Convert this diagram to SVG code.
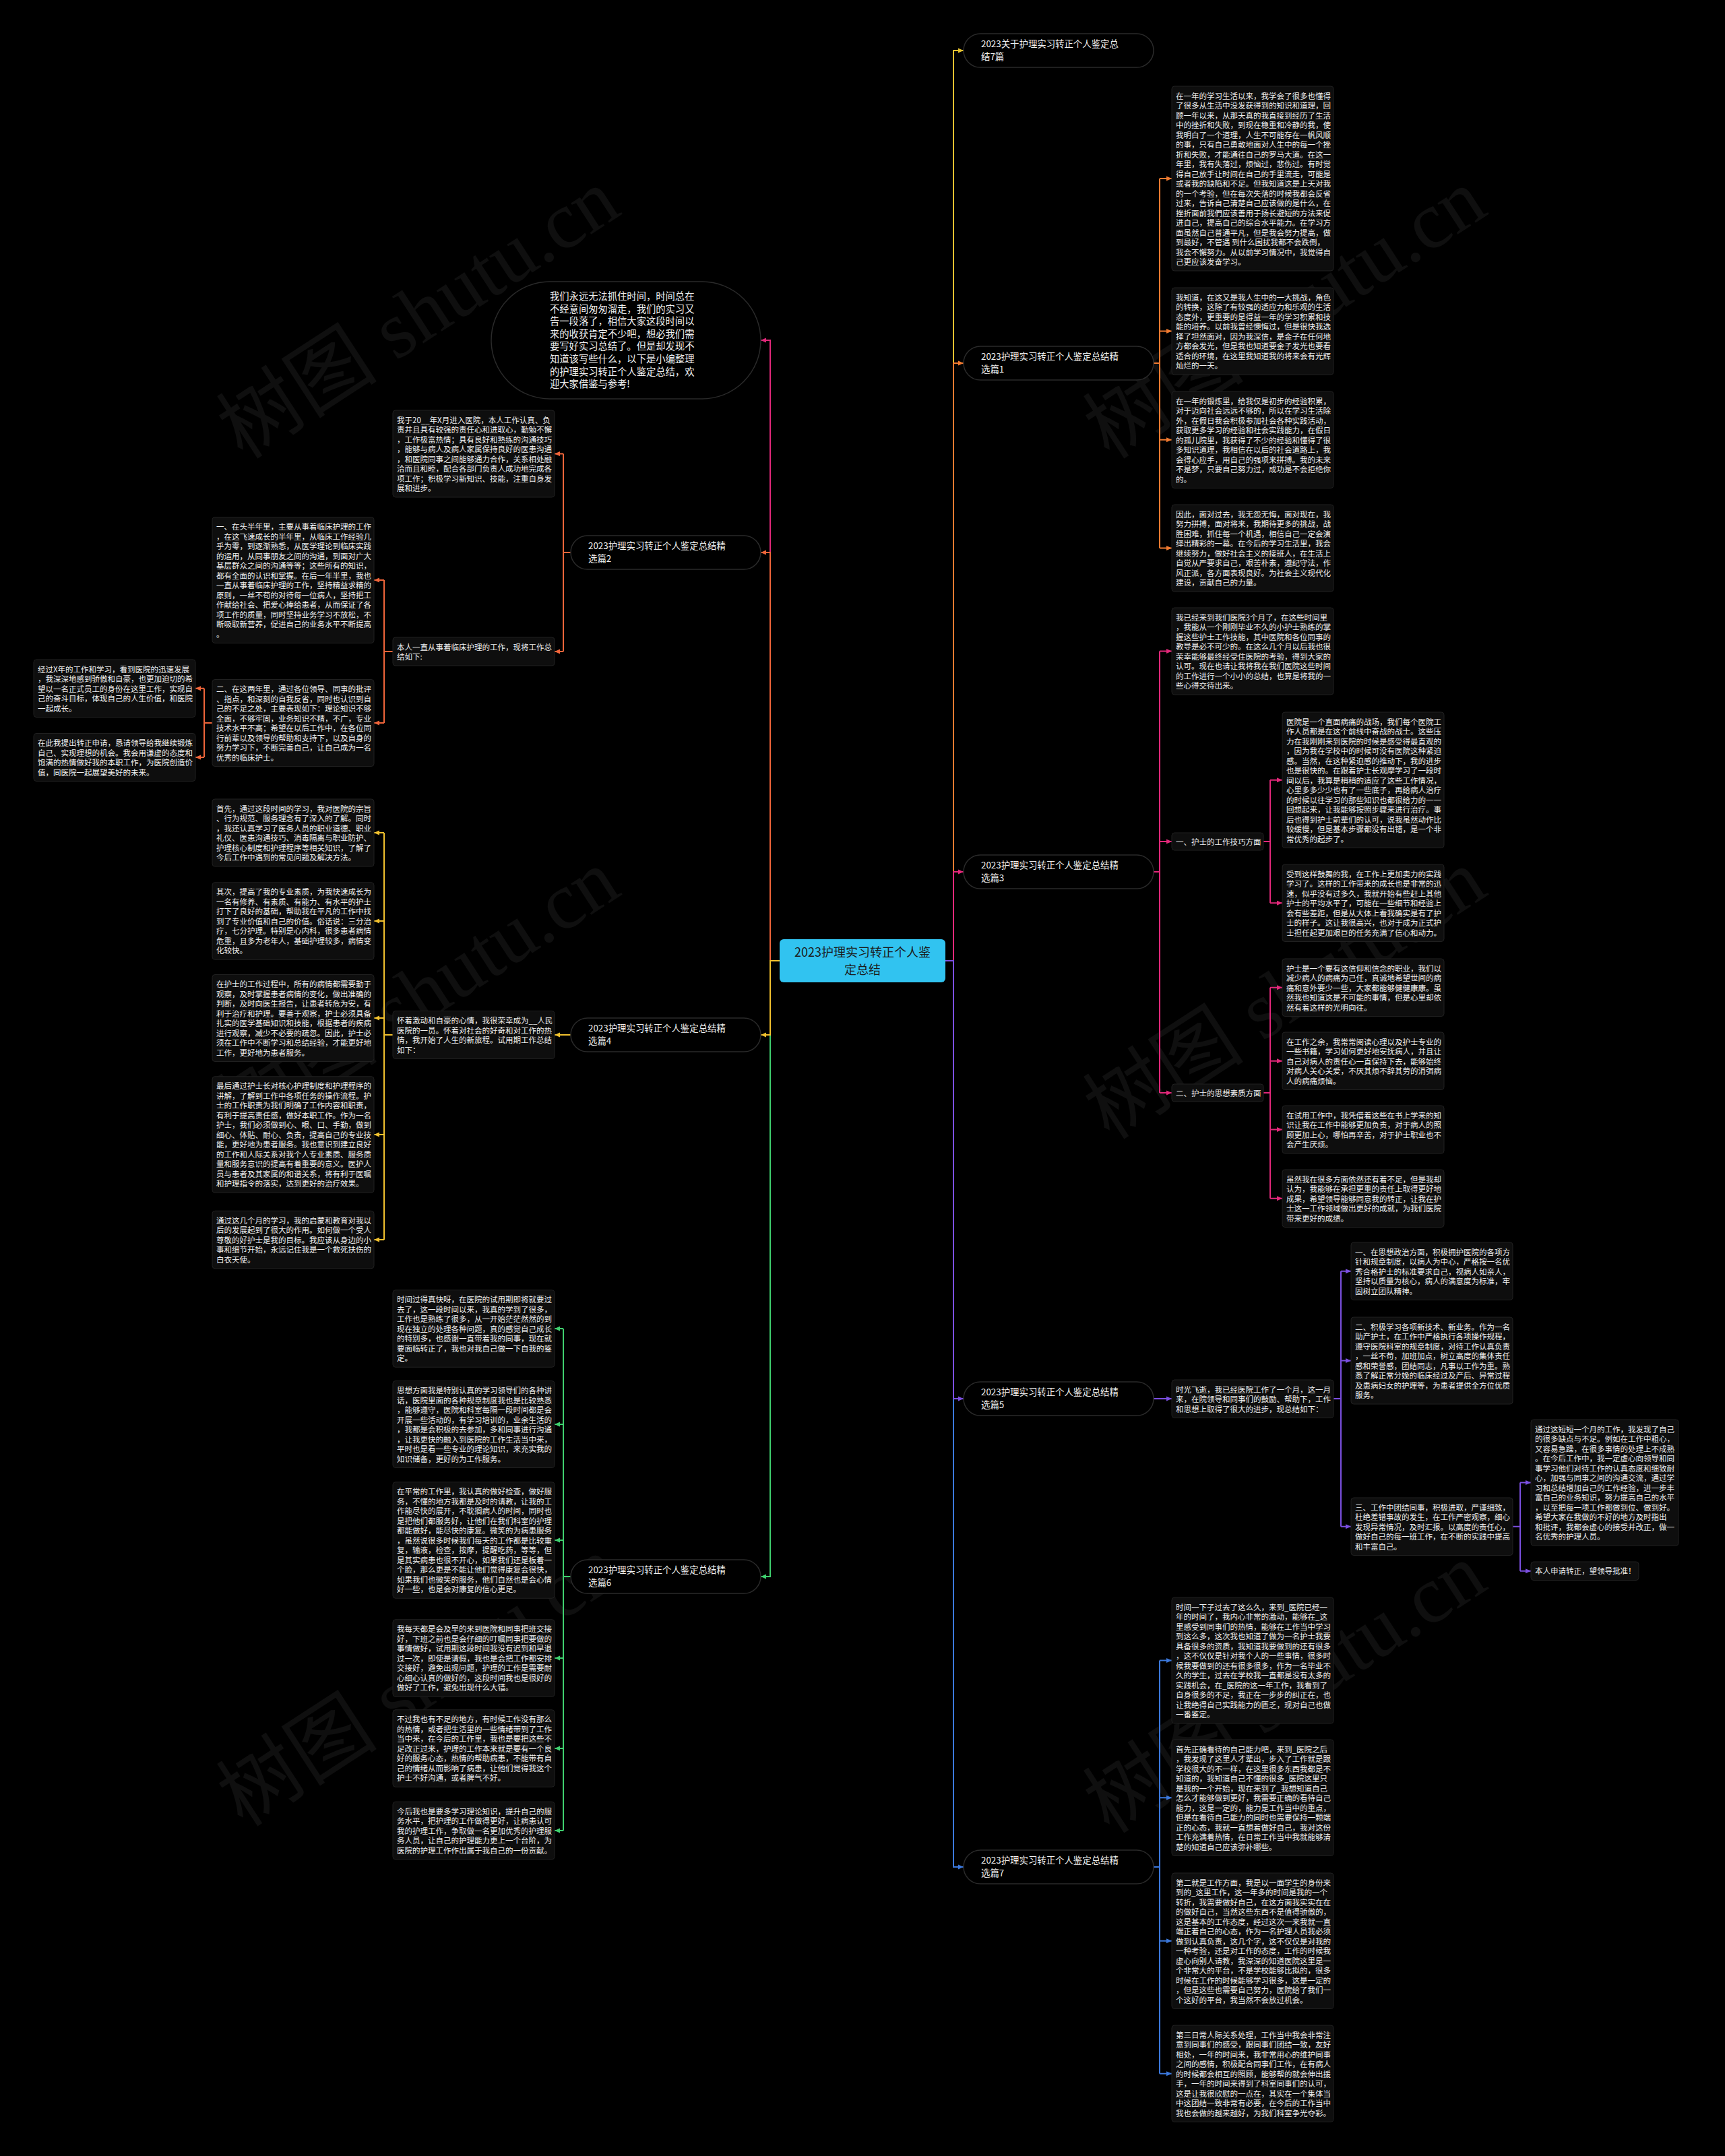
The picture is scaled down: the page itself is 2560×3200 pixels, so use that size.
<svg xmlns="http://www.w3.org/2000/svg" width="2560" height="3200" viewBox="0 0 2560 3200">
<style>
.bg{fill:#000}
.box{fill:#0e0e0e;stroke:#202020;stroke-width:1}
.t{font-family:"Noto Sans CJK SC","Liberation Sans",sans-serif;font-size:11.5px;fill:#f0f0f0}
.pill{fill:#000;stroke:#2a2a2a;stroke-width:1.5}
.pt{font-family:"Noto Sans CJK SC","Liberation Sans",sans-serif;font-size:13.4px;fill:#f0f0f0}
.it{font-family:"Noto Sans CJK SC","Liberation Sans",sans-serif;font-size:14.3px;fill:#f0f0f0}
.ct{font-family:"Noto Sans CJK SC","Liberation Sans",sans-serif;font-size:18px;fill:#1b1b1b;text-anchor:middle}
.wm{font-family:"Liberation Serif","Noto Sans CJK SC",serif;font-size:120px;fill:#ffffff;fill-opacity:0.06}
.c{fill:none;stroke-width:2}
.y{stroke:#e2bf2f}.o{stroke:#f07a30}.p{stroke:#e2287a}.v{stroke:#7b4fe0}.b{stroke:#3b78dc}
.r{stroke:#f0653a}.g{stroke:#f2c12e}.gr{stroke:#3fcf6e}.pk{stroke:#e2287a}
</style>
<defs>
<marker id="my" viewBox="0 0 8 8" refX="8" refY="4" markerWidth="8" markerHeight="8" markerUnits="userSpaceOnUse" orient="auto"><path d="M0,0.5L8,4L0,7.5z" fill="#e2bf2f"/></marker>
<marker id="mo" viewBox="0 0 8 8" refX="8" refY="4" markerWidth="8" markerHeight="8" markerUnits="userSpaceOnUse" orient="auto"><path d="M0,0.5L8,4L0,7.5z" fill="#f07a30"/></marker>
<marker id="mp" viewBox="0 0 8 8" refX="8" refY="4" markerWidth="8" markerHeight="8" markerUnits="userSpaceOnUse" orient="auto"><path d="M0,0.5L8,4L0,7.5z" fill="#e2287a"/></marker>
<marker id="mv" viewBox="0 0 8 8" refX="8" refY="4" markerWidth="8" markerHeight="8" markerUnits="userSpaceOnUse" orient="auto"><path d="M0,0.5L8,4L0,7.5z" fill="#7b4fe0"/></marker>
<marker id="mb" viewBox="0 0 8 8" refX="8" refY="4" markerWidth="8" markerHeight="8" markerUnits="userSpaceOnUse" orient="auto"><path d="M0,0.5L8,4L0,7.5z" fill="#3b78dc"/></marker>
<marker id="mr" viewBox="0 0 8 8" refX="8" refY="4" markerWidth="8" markerHeight="8" markerUnits="userSpaceOnUse" orient="auto"><path d="M0,0.5L8,4L0,7.5z" fill="#f0653a"/></marker>
<marker id="mg" viewBox="0 0 8 8" refX="8" refY="4" markerWidth="8" markerHeight="8" markerUnits="userSpaceOnUse" orient="auto"><path d="M0,0.5L8,4L0,7.5z" fill="#f2c12e"/></marker>
<marker id="mgr" viewBox="0 0 8 8" refX="8" refY="4" markerWidth="8" markerHeight="8" markerUnits="userSpaceOnUse" orient="auto"><path d="M0,0.5L8,4L0,7.5z" fill="#3fcf6e"/></marker>
</defs>
<rect class="bg" x="0" y="0" width="2560" height="3200"/>

<g id="watermarks">
<text class="wm" transform="translate(643,500) rotate(-33)" text-anchor="middle">树图 shutu.cn</text>
<text class="wm" transform="translate(1929,500) rotate(-33)" text-anchor="middle">树图 shutu.cn</text>
<text class="wm" transform="translate(643,1510) rotate(-33)" text-anchor="middle">树图 shutu.cn</text>
<text class="wm" transform="translate(1929,1510) rotate(-33)" text-anchor="middle">树图 shutu.cn</text>
<text class="wm" transform="translate(643,2530) rotate(-33)" text-anchor="middle">树图 shutu.cn</text>
<text class="wm" transform="translate(1929,2540) rotate(-33)" text-anchor="middle">树图 shutu.cn</text>
</g>

<g id="connectors">
<path class="c y" d="M1403,1426H1415V75H1430" marker-end="url(#my)"/>
<path class="c o" d="M1403,1426H1415V539H1430" marker-end="url(#mo)"/>
<path class="c p" d="M1403,1426H1415V1294H1430" marker-end="url(#mp)"/>
<path class="c b" d="M1403,1426H1415V2771H1430" marker-end="url(#mb)"/>
<path class="c v" d="M1403,1426H1415V2076H1430" marker-end="url(#mv)"/>
<path class="c pk" d="M1157,1426H1143V505H1129" marker-end="url(#mp)"/>
<path class="c r" d="M1157,1426H1143V820H1129" marker-end="url(#mr)"/>
<path class="c gr" d="M1157,1426H1143V2340H1129" marker-end="url(#mgr)"/>
<path class="c g" d="M1157,1426H1143V1536H1129" marker-end="url(#mg)"/>
<path class="c o" d="M1712,539H1721M1721,265V813.5"/>
<path class="c o" d="M1721,265H1739" marker-end="url(#mo)"/>
<path class="c o" d="M1721,491.5H1739" marker-end="url(#mo)"/>
<path class="c o" d="M1721,652.75H1739" marker-end="url(#mo)"/>
<path class="c o" d="M1721,813.5H1739" marker-end="url(#mo)"/>
<path class="c p" d="M1712,1294H1721M1721,966.5V1622"/>
<path class="c p" d="M1721,966.5H1739" marker-end="url(#mp)"/>
<path class="c p" d="M1721,1249H1739" marker-end="url(#mp)"/>
<path class="c p" d="M1721,1622H1739" marker-end="url(#mp)"/>
<path class="c p" d="M1875,1249H1885M1885,1157.75V1340.25"/>
<path class="c p" d="M1885,1157.75H1903" marker-end="url(#mp)"/>
<path class="c p" d="M1885,1340.25H1903" marker-end="url(#mp)"/>
<path class="c p" d="M1875,1622H1885M1885,1465.75V1778.75"/>
<path class="c p" d="M1885,1465.75H1903" marker-end="url(#mp)"/>
<path class="c p" d="M1885,1574.75H1903" marker-end="url(#mp)"/>
<path class="c p" d="M1885,1676.5H1903" marker-end="url(#mp)"/>
<path class="c p" d="M1885,1778.75H1903" marker-end="url(#mp)"/>
<path class="c v" d="M1712,2076H1739" marker-end="url(#mv)"/>
<path class="c v" d="M1979,2076H1990M1990,1886.75V2265.75"/>
<path class="c v" d="M1990,1886.75H2005" marker-end="url(#mv)"/>
<path class="c v" d="M1990,2019.5H2005" marker-end="url(#mv)"/>
<path class="c v" d="M1990,2265.75H2005" marker-end="url(#mv)"/>
<path class="c v" d="M2245,2265.75H2256M2256,2200.5V2331.75"/>
<path class="c v" d="M2256,2200.5H2272" marker-end="url(#mv)"/>
<path class="c v" d="M2256,2331.75H2272" marker-end="url(#mv)"/>
<path class="c b" d="M1712,2771H1721M1721,2464.5V3077.75"/>
<path class="c b" d="M1721,2464.5H1739" marker-end="url(#mb)"/>
<path class="c b" d="M1721,2668.25H1739" marker-end="url(#mb)"/>
<path class="c b" d="M1721,2880.75H1739" marker-end="url(#mb)"/>
<path class="c b" d="M1721,3077.75H1739" marker-end="url(#mb)"/>
<path class="c r" d="M847,820H836M836,673.5V967"/>
<path class="c r" d="M836,673.5H823" marker-end="url(#mr)"/>
<path class="c r" d="M836,967H823" marker-end="url(#mr)"/>
<path class="c r" d="M583,967H570M570,861V1073"/>
<path class="c r" d="M570,861H555" marker-end="url(#mr)"/>
<path class="c r" d="M570,1073H555" marker-end="url(#mr)"/>
<path class="c r" d="M315,1073H303M303,1021.75V1124"/>
<path class="c r" d="M303,1021.75H290" marker-end="url(#mr)"/>
<path class="c r" d="M303,1124H290" marker-end="url(#mr)"/>
<path class="c g" d="M847,1536H823" marker-end="url(#mg)"/>
<path class="c g" d="M583,1536H570M570,1236V1840"/>
<path class="c g" d="M570,1236H555" marker-end="url(#mg)"/>
<path class="c g" d="M570,1367H555" marker-end="url(#mg)"/>
<path class="c g" d="M570,1511H555" marker-end="url(#mg)"/>
<path class="c g" d="M570,1684H555" marker-end="url(#mg)"/>
<path class="c g" d="M570,1840H555" marker-end="url(#mg)"/>
<path class="c gr" d="M847,2340H836M836,1972V2717"/>
<path class="c gr" d="M836,1972H823" marker-end="url(#mgr)"/>
<path class="c gr" d="M836,2114H823" marker-end="url(#mgr)"/>
<path class="c gr" d="M836,2286H823" marker-end="url(#mgr)"/>
<path class="c gr" d="M836,2461H823" marker-end="url(#mgr)"/>
<path class="c gr" d="M836,2595H823" marker-end="url(#mgr)"/>
<path class="c gr" d="M836,2717H823" marker-end="url(#mgr)"/>
</g>

<g id="center">
<rect x="1157" y="1394" width="246" height="64" rx="6" fill="#31c3f0"/>
<text class="ct" x="1280" y="1420">2023护理实习转正个人鉴</text>
<text class="ct" x="1280" y="1446">定总结</text>
</g>

<g id="title">
<rect class="pill" x="1430" y="50" width="282" height="50" rx="25"/>
<text class="pt" y="70"><tspan x="1456">2023关于护理实习转正个人鉴定总</tspan><tspan x="1456" dy="19">结7篇</tspan></text>
</g>

<g id="sel1">
<rect class="pill" x="1430" y="514" width="282" height="50" rx="25"/>
<text class="pt" y="534"><tspan x="1456">2023护理实习转正个人鉴定总结精</tspan><tspan x="1456" dy="19">选篇1</tspan></text>
</g>
<g id="s1a">
<rect class="box" x="1739" y="128" width="240" height="274" rx="4"/>
<text class="t" y="146.5"><tspan x="1745">在一年的学习生活以来，我学会了很多也懂得</tspan><tspan x="1745" dy="14.5">了很多从生活中没发获得到的知识和道理，回</tspan><tspan x="1745" dy="14.5">顾一年以来，从那天真的我直接到经历了生活</tspan><tspan x="1745" dy="14.5">中的挫折和失败，到现在稳重和冷静的我，使</tspan><tspan x="1745" dy="14.5">我明白了一个道理，人生不可能存在一帆风顺</tspan><tspan x="1745" dy="14.5">的事，只有自己勇敢地面对人生中的每一个挫</tspan><tspan x="1745" dy="14.5">折和失败，才能通往自己的罗马大道。在这一</tspan><tspan x="1745" dy="14.5">年里，我有失落过，烦恼过，悲伤过。有时觉</tspan><tspan x="1745" dy="14.5">得自己放手让时间在自己的手里流走，可能是</tspan><tspan x="1745" dy="14.5">或者我的缺陷和不足。但我知道这是上天对我</tspan><tspan x="1745" dy="14.5">的一个考验，但在每次失落的时候我都会反省</tspan><tspan x="1745" dy="14.5">过来，告诉自己清楚自己应该做的是什么，在</tspan><tspan x="1745" dy="14.5">挫折面前我們应该善用于扬长避短的方法来促</tspan><tspan x="1745" dy="14.5">进自己，提高自己的综合水平能力。在学习方</tspan><tspan x="1745" dy="14.5">面虽然自己普通平凡，但是我会努力提高，做</tspan><tspan x="1745" dy="14.5">到最好，不管遇 到什么困扰我都不会跌倒，</tspan><tspan x="1745" dy="14.5">我会不懈努力。从以前学习情况中，我觉得自</tspan><tspan x="1745" dy="14.5">己更应该发奋学习。</tspan></text>
</g>
<g id="s1b">
<rect class="box" x="1739" y="427" width="240" height="129" rx="4"/>
<text class="t" y="445.5"><tspan x="1745">我知道，在这又是我人生中的一大挑战，角色</tspan><tspan x="1745" dy="14.5">的转换，这除了有较强的适应力和乐观的生活</tspan><tspan x="1745" dy="14.5">态度外，更重要的是得益一年的学习积累和技</tspan><tspan x="1745" dy="14.5">能的培养。以前我曾经懊悔过，但是很快我选</tspan><tspan x="1745" dy="14.5">择了坦然面对，因为我深信，是金子在任何地</tspan><tspan x="1745" dy="14.5">方都会发光，但是我也知道要金子发光也要看</tspan><tspan x="1745" dy="14.5">适合的环境，在这里我知道我的将来会有光辉</tspan><tspan x="1745" dy="14.5">灿烂的一天。</tspan></text>
</g>
<g id="s1c">
<rect class="box" x="1739" y="581" width="240" height="143.5" rx="4"/>
<text class="t" y="599.5"><tspan x="1745">在一年的锻炼里，给我仅是初步的经验积累，</tspan><tspan x="1745" dy="14.5">对于迈向社会远远不够的，所以在学习生活除</tspan><tspan x="1745" dy="14.5">外，在假日我会积极参加社会各种实践活动，</tspan><tspan x="1745" dy="14.5">获取更多学习的经验和社会实践能力，在假日</tspan><tspan x="1745" dy="14.5">的孤儿院里，我获得了不少的经验和懂得了很</tspan><tspan x="1745" dy="14.5">多知识道理，我相信在以后的社会道路上，我</tspan><tspan x="1745" dy="14.5">会得心应手，用自己的强项来拼搏。我的未来</tspan><tspan x="1745" dy="14.5">不是梦，只要自己努力过，成功是不会拒绝你</tspan><tspan x="1745" dy="14.5">的。</tspan></text>
</g>
<g id="s1d">
<rect class="box" x="1739" y="749" width="240" height="129" rx="4"/>
<text class="t" y="767.5"><tspan x="1745">因此，面对过去，我无怨无悔，面对现在，我</tspan><tspan x="1745" dy="14.5">努力拼搏，面对将来，我期待更多的挑战，战</tspan><tspan x="1745" dy="14.5">胜困难，抓住每一个机遇，相信自己一定会演</tspan><tspan x="1745" dy="14.5">绎出精彩的一幕。在今后的学习生活里，我会</tspan><tspan x="1745" dy="14.5">继续努力，做好社会主义的接班人，在生活上</tspan><tspan x="1745" dy="14.5">自觉从严要求自己，艰苦朴素，遵纪守法，作</tspan><tspan x="1745" dy="14.5">风正派，各方面表现良好。为社会主义现代化</tspan><tspan x="1745" dy="14.5">建设，贡献自己的力量。</tspan></text>
</g>

<g id="sel3">
<rect class="pill" x="1430" y="1269" width="282" height="50" rx="25"/>
<text class="pt" y="1289"><tspan x="1456">2023护理实习转正个人鉴定总结精</tspan><tspan x="1456" dy="19">选篇3</tspan></text>
</g>
<g id="s3i">
<rect class="box" x="1739" y="902" width="240" height="129" rx="4"/>
<text class="t" y="920.5"><tspan x="1745">我已经来到我们医院3个月了，在这些时间里</tspan><tspan x="1745" dy="14.5">，我能从一个刚刚毕业不久的小护士熟练的掌</tspan><tspan x="1745" dy="14.5">握这些护士工作技能，其中医院和各位同事的</tspan><tspan x="1745" dy="14.5">教导是必不可少的。在这么几个月以后我也很</tspan><tspan x="1745" dy="14.5">荣幸能够最终经受住医院的考验，得到大家的</tspan><tspan x="1745" dy="14.5">认可。现在也请让我将我在我们医院这些时间</tspan><tspan x="1745" dy="14.5">的工作进行一个小小的总结，也算是将我的一</tspan><tspan x="1745" dy="14.5">些心得交待出来。</tspan></text>
</g>
<g id="s3-1">
<rect class="box" x="1739" y="1236" width="136" height="26" rx="4"/>
<text class="t" x="1745" y="1253.5">一、护士的工作技巧方面</text>
</g>
<g id="s3a">
<rect class="box" x="1903" y="1057" width="240" height="201.5" rx="4"/>
<text class="t" y="1075.5"><tspan x="1909">医院是一个直面病痛的战场，我们每个医院工</tspan><tspan x="1909" dy="14.5">作人员都是在这个前线中奋战的战士。这些压</tspan><tspan x="1909" dy="14.5">力在我刚刚来到医院的时候是感受得最直观的</tspan><tspan x="1909" dy="14.5">，因为我在学校中的时候可没有医院这种紧迫</tspan><tspan x="1909" dy="14.5">感。当然，在这种紧迫感的推动下，我的进步</tspan><tspan x="1909" dy="14.5">也是很快的。在跟着护士长观摩学习了一段时</tspan><tspan x="1909" dy="14.5">间以后，我算是稍稍的适应了这些工作情况，</tspan><tspan x="1909" dy="14.5">心里多多少少也有了一些底子，再给病人治疗</tspan><tspan x="1909" dy="14.5">的时候以往学习的那些知识也都很给力的一一</tspan><tspan x="1909" dy="14.5">回想起来，让我能够按照步骤来进行治疗。事</tspan><tspan x="1909" dy="14.5">后也得到护士前辈们的认可，说我虽然动作比</tspan><tspan x="1909" dy="14.5">较缓慢，但是基本步骤都没有出错，是一个非</tspan><tspan x="1909" dy="14.5">常优秀的起步了。</tspan></text>
</g>
<g id="s3b">
<rect class="box" x="1903" y="1283" width="240" height="114.5" rx="4"/>
<text class="t" y="1301.5"><tspan x="1909">受到这样鼓舞的我，在工作上更加卖力的实践</tspan><tspan x="1909" dy="14.5">学习了。这样的工作带来的成长也是非常的迅</tspan><tspan x="1909" dy="14.5">速，似乎没有过多久，我就开始有些赶上其他</tspan><tspan x="1909" dy="14.5">护士的平均水平了，可能在一些细节和经验上</tspan><tspan x="1909" dy="14.5">会有些差距，但是从大体上看我确实是有了护</tspan><tspan x="1909" dy="14.5">士的样子。这让我很高兴，也对于成为正式护</tspan><tspan x="1909" dy="14.5">士担任起更加艰巨的任务充满了信心和动力。</tspan></text>
</g>
<g id="s3-2">
<rect class="box" x="1739" y="1609" width="136" height="26" rx="4"/>
<text class="t" x="1745" y="1626.5">二、护士的思想素质方面</text>
</g>
<g id="s3c">
<rect class="box" x="1903" y="1423" width="240" height="85.5" rx="4"/>
<text class="t" y="1441.5"><tspan x="1909">护士是一个要有这信仰和信念的职业，我们以</tspan><tspan x="1909" dy="14.5">减少病人的病痛为己任，真诚地希望世间的病</tspan><tspan x="1909" dy="14.5">痛和意外要少一些，大家都能够健健康康。虽</tspan><tspan x="1909" dy="14.5">然我也知道这是不可能的事情，但是心里却依</tspan><tspan x="1909" dy="14.5">然有着这样的光明向往。</tspan></text>
</g>
<g id="s3d">
<rect class="box" x="1903" y="1532" width="240" height="85.5" rx="4"/>
<text class="t" y="1550.5"><tspan x="1909">在工作之余，我常常阅读心理以及护士专业的</tspan><tspan x="1909" dy="14.5">一些书籍，学习如何更好地安抚病人，并且让</tspan><tspan x="1909" dy="14.5">自己对病人的责任心一直保持下去，能够始终</tspan><tspan x="1909" dy="14.5">对病人关心关爱，不厌其烦不辞其劳的消弭病</tspan><tspan x="1909" dy="14.5">人的病痛烦恼。</tspan></text>
</g>
<g id="s3e">
<rect class="box" x="1903" y="1641" width="240" height="71" rx="4"/>
<text class="t" y="1659.5"><tspan x="1909">在试用工作中，我凭借着这些在书上学来的知</tspan><tspan x="1909" dy="14.5">识让我在工作中能够更加负责，对于病人的照</tspan><tspan x="1909" dy="14.5">顾更加上心，哪怕再辛苦，对于护士职业也不</tspan><tspan x="1909" dy="14.5">会产生厌烦。</tspan></text>
</g>
<g id="s3f">
<rect class="box" x="1903" y="1736" width="240" height="85.5" rx="4"/>
<text class="t" y="1754.5"><tspan x="1909">虽然我在很多方面依然还有着不足，但是我却</tspan><tspan x="1909" dy="14.5">认为，我能够在承担更重的责任上取得更好地</tspan><tspan x="1909" dy="14.5">成果，希望领导能够同意我的转正，让我在护</tspan><tspan x="1909" dy="14.5">士这一工作领域做出更好的成就，为我们医院</tspan><tspan x="1909" dy="14.5">带来更好的成绩。</tspan></text>
</g>

<g id="sel5">
<rect class="pill" x="1430" y="2051" width="282" height="50" rx="25"/>
<text class="pt" y="2071"><tspan x="1456">2023护理实习转正个人鉴定总结精</tspan><tspan x="1456" dy="19">选篇5</tspan></text>
</g>
<g id="s5i">
<rect class="box" x="1739" y="2048" width="240" height="56.5" rx="4"/>
<text class="t" y="2066.5"><tspan x="1745">时光飞逝，我已经医院工作了一个月，这一月</tspan><tspan x="1745" dy="14.5">来，在院领导和同事们的鼓励、帮助下，工作</tspan><tspan x="1745" dy="14.5">和思想上取得了很大的进步，现总结如下：</tspan></text>
</g>
<g id="s5a">
<rect class="box" x="2005" y="1844" width="240" height="85.5" rx="4"/>
<text class="t" y="1862.5"><tspan x="2011">一、在思想政治方面，积极拥护医院的各项方</tspan><tspan x="2011" dy="14.5">针和规章制度，以病人为中心，严格按一名优</tspan><tspan x="2011" dy="14.5">秀合格护士的标准要求自己，视病人如亲人，</tspan><tspan x="2011" dy="14.5">坚持以质量为核心，病人的满意度为标准，牢</tspan><tspan x="2011" dy="14.5">固树立团队精神。</tspan></text>
</g>
<g id="s5b">
<rect class="box" x="2005" y="1955" width="240" height="129" rx="4"/>
<text class="t" y="1973.5"><tspan x="2011">二、积极学习各项新技术、新业务。作为一名</tspan><tspan x="2011" dy="14.5">助产护士，在工作中严格执行各项操作规程，</tspan><tspan x="2011" dy="14.5">遵守医院科室的规章制度，对待工作认真负责</tspan><tspan x="2011" dy="14.5">，一丝不苟，加班加点，树立高度的集体责任</tspan><tspan x="2011" dy="14.5">感和荣誉感，团结同志，凡事以工作为重。熟</tspan><tspan x="2011" dy="14.5">悉了解正常分娩的临床经过及产后、异常过程</tspan><tspan x="2011" dy="14.5">及患病妇女的护理等，为患者提供全方位优质</tspan><tspan x="2011" dy="14.5">服务。</tspan></text>
</g>
<g id="s5c">
<rect class="box" x="2005" y="2223" width="240" height="85.5" rx="4"/>
<text class="t" y="2241.5"><tspan x="2011">三、工作中团结同事，积极进取，严谨细致，</tspan><tspan x="2011" dy="14.5">杜绝差错事故的发生，在工作严密观察，细心</tspan><tspan x="2011" dy="14.5">发现异常情况，及时汇报。以高度的责任心，</tspan><tspan x="2011" dy="14.5">做好自己的每一班工作，在不断的实践中提高</tspan><tspan x="2011" dy="14.5">和丰富自己。</tspan></text>
</g>
<g id="s5c1">
<rect class="box" x="2272" y="2107" width="219" height="187" rx="4"/>
<text class="t" y="2125.5"><tspan x="2278">通过这短短一个月的工作，我发现了自己</tspan><tspan x="2278" dy="14.5">的很多缺点与不足。例如在工作中粗心，</tspan><tspan x="2278" dy="14.5">又容易急躁，在很多事情的处理上不成熟</tspan><tspan x="2278" dy="14.5">。在今后工作中，我一定虚心向领导和同</tspan><tspan x="2278" dy="14.5">事学习他们对待工作的认真态度和细致耐</tspan><tspan x="2278" dy="14.5">心，加强与同事之间的沟通交流，通过学</tspan><tspan x="2278" dy="14.5">习和总结增加自己的工作经验，进一步丰</tspan><tspan x="2278" dy="14.5">富自己的业务知识，努力提高自己的水平</tspan><tspan x="2278" dy="14.5">，以至把每一项工作都做到位、做到好。</tspan><tspan x="2278" dy="14.5">希望大家在我做的不好的地方及时指出</tspan><tspan x="2278" dy="14.5">和批评，我都会虚心的接受并改正，做一</tspan><tspan x="2278" dy="14.5">名优秀的护理人员。</tspan></text>
</g>
<g id="s5c2">
<rect class="box" x="2272" y="2318" width="160" height="27.5" rx="4"/>
<text class="t" x="2278" y="2336">本人申请转正，望领导批准！</text>
</g>

<g id="sel7">
<rect class="pill" x="1430" y="2746" width="282" height="50" rx="25"/>
<text class="pt" y="2766"><tspan x="1456">2023护理实习转正个人鉴定总结精</tspan><tspan x="1456" dy="19">选篇7</tspan></text>
</g>
<g id="s7a">
<rect class="box" x="1739" y="2371" width="240" height="187" rx="4"/>
<text class="t" y="2389.5"><tspan x="1745">时间一下子过去了这么久，来到_医院已经一</tspan><tspan x="1745" dy="14.5">年的时间了，我内心非常的激动，能够在_这</tspan><tspan x="1745" dy="14.5">里感受到同事们的热情，能够在工作当中学习</tspan><tspan x="1745" dy="14.5">到这么多，这次我也知道了做为一名护士我要</tspan><tspan x="1745" dy="14.5">具备很多的资质，我知道我要做到的还有很多</tspan><tspan x="1745" dy="14.5">，这不仅仅是针对我个人的一些事情，很多时</tspan><tspan x="1745" dy="14.5">候我要做到的还有很多很多，作为一名毕业不</tspan><tspan x="1745" dy="14.5">久的学生，过去在学校我一直都是没有太多的</tspan><tspan x="1745" dy="14.5">实践机会，在_医院的这一年工作，我看到了</tspan><tspan x="1745" dy="14.5">自身很多的不足，我正在一步步的纠正在，也</tspan><tspan x="1745" dy="14.5">让我绝得自己实践能力的匮乏，现对自己也做</tspan><tspan x="1745" dy="14.5">一番鉴定。</tspan></text>
</g>
<g id="s7b">
<rect class="box" x="1739" y="2582" width="240" height="172.5" rx="4"/>
<text class="t" y="2600.5"><tspan x="1745">首先正确看待的自己能力吧，来到_医院之后</tspan><tspan x="1745" dy="14.5">，我发现了这里人才辈出，步入了工作就是跟</tspan><tspan x="1745" dy="14.5">学校很大的不一样，在这里很多东西我都是不</tspan><tspan x="1745" dy="14.5">知道的，我知道自己不懂的很多_医院这里只</tspan><tspan x="1745" dy="14.5">是我的一个开始，现在来到了_我想知道自己</tspan><tspan x="1745" dy="14.5">怎么才能够做到更好，我需要正确的看待自己</tspan><tspan x="1745" dy="14.5">能力，这是一定的，能力是工作当中的重点，</tspan><tspan x="1745" dy="14.5">但是在看待自己能力的同时也需要保持一颗端</tspan><tspan x="1745" dy="14.5">正的心态，我就一直想着做好自己，我对这份</tspan><tspan x="1745" dy="14.5">工作充满着热情，在日常工作当中我就能够清</tspan><tspan x="1745" dy="14.5">楚的知道自己应该弥补哪些。</tspan></text>
</g>
<g id="s7c">
<rect class="box" x="1739" y="2780" width="240" height="201.5" rx="4"/>
<text class="t" y="2798.5"><tspan x="1745">第二就是工作方面，我是以一面学生的身份来</tspan><tspan x="1745" dy="14.5">到的_这里工作，这一年多的时间是我的一个</tspan><tspan x="1745" dy="14.5">转折，我需要做好自己，在这方面我实实在在</tspan><tspan x="1745" dy="14.5">的做好自己，当然这些东西不是值得骄傲的，</tspan><tspan x="1745" dy="14.5">这是基本的工作态度，经过这次一来我就一直</tspan><tspan x="1745" dy="14.5">端正着自己的心态，作为一名护理人员我必须</tspan><tspan x="1745" dy="14.5">做到认真负责，这几个字，这不仅仅是对我的</tspan><tspan x="1745" dy="14.5">一种考验，还是对工作的态度，工作的时候我</tspan><tspan x="1745" dy="14.5">虚心向别人请教，我深深的知道医院这里是一</tspan><tspan x="1745" dy="14.5">个非常大的平台，不是学校能够比拟的，很多</tspan><tspan x="1745" dy="14.5">时候在工作的时候能够学习很多，这是一定的</tspan><tspan x="1745" dy="14.5">，但是这些也需要自己努力，医院给了我们一</tspan><tspan x="1745" dy="14.5">个这好的平台，我当然不会放过机会。</tspan></text>
</g>
<g id="s7d">
<rect class="box" x="1739" y="3006" width="240" height="143.5" rx="4"/>
<text class="t" y="3024.5"><tspan x="1745">第三日常人际关系处理，工作当中我会非常注</tspan><tspan x="1745" dy="14.5">意到同事们的感受，跟同事们团结一致，友好</tspan><tspan x="1745" dy="14.5">相处，一年的时间来，我非常用心的维护同事</tspan><tspan x="1745" dy="14.5">之间的感情，积极配合同事们工作，在有病人</tspan><tspan x="1745" dy="14.5">的时候都会相互的照顾，能够帮的就会伸出援</tspan><tspan x="1745" dy="14.5">手，一年的时间来得到了科室同事们的认可，</tspan><tspan x="1745" dy="14.5">这是让我很欣慰的一点在，其实在一个集体当</tspan><tspan x="1745" dy="14.5">中这团结一致非常有必要，在今后的工作当中</tspan><tspan x="1745" dy="14.5">我也会做的越来越好，为我们科室争光夺彩。</tspan></text>
</g>

<g id="intro">
<rect x="729" y="418" width="400" height="174" rx="87" fill="#000" stroke="#2a2a2a" stroke-width="1.5"/>
<text class="it" y="445"><tspan x="816">我们永远无法抓住时间，时间总在</tspan><tspan x="816" dy="18.6">不经意间匆匆溜走，我们的实习又</tspan><tspan x="816" dy="18.6">告一段落了，相信大家这段时间以</tspan><tspan x="816" dy="18.6">来的收获肯定不少吧，想必我们需</tspan><tspan x="816" dy="18.6">要写好实习总结了。但是却发现不</tspan><tspan x="816" dy="18.6">知道该写些什么，以下是小编整理</tspan><tspan x="816" dy="18.6">的护理实习转正个人鉴定总结，欢</tspan><tspan x="816" dy="18.6">迎大家借鉴与参考!</tspan></text>
</g>

<g id="sel2">
<rect class="pill" x="847" y="795" width="282" height="50" rx="25"/>
<text class="pt" y="815"><tspan x="873">2023护理实习转正个人鉴定总结精</tspan><tspan x="873" dy="19">选篇2</tspan></text>
</g>
<g id="s2t">
<rect class="box" x="583" y="609" width="240" height="129" rx="4"/>
<text class="t" y="627.5"><tspan x="589">我于20__年X月进入医院，本人工作认真、负</tspan><tspan x="589" dy="14.5">责并且具有较强的责任心和进取心，勤勉不懈</tspan><tspan x="589" dy="14.5">，工作极富热情；具有良好和熟练的沟通技巧</tspan><tspan x="589" dy="14.5">，能够与病人及病人家属保持良好的医患沟通</tspan><tspan x="589" dy="14.5">，和医院同事之间能够通力合作，关系相处融</tspan><tspan x="589" dy="14.5">洽而且和睦，配合各部门负责人成功地完成各</tspan><tspan x="589" dy="14.5">项工作；积极学习新知识、技能，注重自身发</tspan><tspan x="589" dy="14.5">展和进步。</tspan></text>
</g>
<g id="s2u">
<rect class="box" x="583" y="946" width="240" height="42" rx="4"/>
<text class="t" y="964.5"><tspan x="589">本人一直从事着临床护理的工作，现将工作总</tspan><tspan x="589" dy="14.5">结如下:</tspan></text>
</g>
<g id="s2a">
<rect class="box" x="315" y="767.5" width="240" height="187" rx="4"/>
<text class="t" y="786"><tspan x="321">一、在头半年里，主要从事着临床护理的工作</tspan><tspan x="321" dy="14.5">，在这飞速成长的半年里，从临床工作经验几</tspan><tspan x="321" dy="14.5">乎为零，到逐渐熟悉，从医学理论到临床实践</tspan><tspan x="321" dy="14.5">的运用，从同事朋友之间的沟通，到面对广大</tspan><tspan x="321" dy="14.5">基层群众之间的沟通等等；这些所有的知识，</tspan><tspan x="321" dy="14.5">都有全面的认识和掌握。在后一年半里，我也</tspan><tspan x="321" dy="14.5">一直从事着临床护理的工作，坚持精益求精的</tspan><tspan x="321" dy="14.5">原则，一丝不苟的对待每一位病人，坚持把工</tspan><tspan x="321" dy="14.5">作献给社会、把爱心捧给患者，从而保证了各</tspan><tspan x="321" dy="14.5">项工作的质量，同时坚持业务学习不放松，不</tspan><tspan x="321" dy="14.5">断吸取新营养，促进自己的业务水平不断提高</tspan><tspan x="321" dy="14.5">。</tspan></text>
</g>
<g id="s2b">
<rect class="box" x="315" y="1008.5" width="240" height="129" rx="4"/>
<text class="t" y="1027"><tspan x="321">二、在这两年里，通过各位领导、同事的批评</tspan><tspan x="321" dy="14.5">、指点，和深刻的自我反省，同时也认识到自</tspan><tspan x="321" dy="14.5">己的不足之处，主要表现如下：理论知识不够</tspan><tspan x="321" dy="14.5">全面，不够牢固，业务知识不精，不广，专业</tspan><tspan x="321" dy="14.5">技术水平不高；希望在以后工作中，在各位同</tspan><tspan x="321" dy="14.5">行前辈以及领导的帮助和支持下，以及自身的</tspan><tspan x="321" dy="14.5">努力学习下，不断完善自己，让自己成为一名</tspan><tspan x="321" dy="14.5">优秀的临床护士。</tspan></text>
</g>
<g id="s2b1">
<rect class="box" x="50" y="979" width="240" height="85.5" rx="4"/>
<text class="t" y="997.5"><tspan x="56">经过X年的工作和学习，看到医院的迅速发展</tspan><tspan x="56" dy="14.5">，我深深地感到骄傲和自豪，也更加迫切的希</tspan><tspan x="56" dy="14.5">望以一名正式员工的身份在这里工作，实现自</tspan><tspan x="56" dy="14.5">己的奋斗目标，体现自己的人生价值，和医院</tspan><tspan x="56" dy="14.5">一起成长。</tspan></text>
</g>
<g id="s2b2">
<rect class="box" x="50" y="1088.5" width="240" height="71" rx="4"/>
<text class="t" y="1107"><tspan x="56">在此我提出转正申请，恳请领导给我继续锻炼</tspan><tspan x="56" dy="14.5">自己、实现理想的机会。我会用谦虚的态度和</tspan><tspan x="56" dy="14.5">饱满的热情做好我的本职工作，为医院创造价</tspan><tspan x="56" dy="14.5">值，同医院一起展望美好的未来。</tspan></text>
</g>

<g id="sel4">
<rect class="pill" x="847" y="1511" width="282" height="50" rx="25"/>
<text class="pt" y="1531"><tspan x="873">2023护理实习转正个人鉴定总结精</tspan><tspan x="873" dy="19">选篇4</tspan></text>
</g>
<g id="s4t">
<rect class="box" x="583" y="1500.5" width="240" height="71" rx="4"/>
<text class="t" y="1519"><tspan x="589">怀着激动和自豪的心情，我很荣幸成为__人民</tspan><tspan x="589" dy="14.5">医院的一员。怀着对社会的好奇和对工作的热</tspan><tspan x="589" dy="14.5">情，我开始了人生的新旅程。试用期工作总结</tspan><tspan x="589" dy="14.5">如下：</tspan></text>
</g>
<g id="s4a">
<rect class="box" x="315" y="1186" width="240" height="100" rx="4"/>
<text class="t" y="1204.5"><tspan x="321">首先，通过这段时间的学习，我对医院的宗旨</tspan><tspan x="321" dy="14.5">、行为规范、服务理念有了深入的了解。同时</tspan><tspan x="321" dy="14.5">，我还认真学习了医务人员的职业道德、职业</tspan><tspan x="321" dy="14.5">礼仪、医患沟通技巧、消毒隔离与职业防护、</tspan><tspan x="321" dy="14.5">护理核心制度和护理程序等相关知识，了解了</tspan><tspan x="321" dy="14.5">今后工作中遇到的常见问题及解决方法。</tspan></text>
</g>
<g id="s4b">
<rect class="box" x="315" y="1309.75" width="240" height="114.5" rx="4"/>
<text class="t" y="1328.25"><tspan x="321">其次，提高了我的专业素质，为我快速成长为</tspan><tspan x="321" dy="14.5">一名有修养、有素质、有能力、有水平的护士</tspan><tspan x="321" dy="14.5">打下了良好的基础，帮助我在平凡的工作中找</tspan><tspan x="321" dy="14.5">到了专业价值和自己的价值。俗话说：三分治</tspan><tspan x="321" dy="14.5">疗，七分护理。特别是心内科，很多患者病情</tspan><tspan x="321" dy="14.5">危重，且多为老年人，基础护理较多，病情变</tspan><tspan x="321" dy="14.5">化较快。</tspan></text>
</g>
<g id="s4c">
<rect class="box" x="315" y="1446.5" width="240" height="129" rx="4"/>
<text class="t" y="1465"><tspan x="321">在护士的工作过程中，所有的病情都需要勤于</tspan><tspan x="321" dy="14.5">观察，及时掌握患者病情的变化，做出准确的</tspan><tspan x="321" dy="14.5">判断，及时向医生报告，让患者转危为安，有</tspan><tspan x="321" dy="14.5">利于治疗和护理。要善于观察，护士必须具备</tspan><tspan x="321" dy="14.5">扎实的医学基础知识和技能，根据患者的疾病</tspan><tspan x="321" dy="14.5">进行观察，减少不必要的疏忽。因此，护士必</tspan><tspan x="321" dy="14.5">须在工作中不断学习和总结经验，才能更好地</tspan><tspan x="321" dy="14.5">工作，更好地为患者服务。</tspan></text>
</g>
<g id="s4d">
<rect class="box" x="315" y="1597.75" width="240" height="172.5" rx="4"/>
<text class="t" y="1616.25"><tspan x="321">最后通过护士长对核心护理制度和护理程序的</tspan><tspan x="321" dy="14.5">讲解，了解到工作中各项任务的操作流程。护</tspan><tspan x="321" dy="14.5">士的工作职责为我们明确了工作内容和职责，</tspan><tspan x="321" dy="14.5">有利于提高责任感，做好本职工作。作为一名</tspan><tspan x="321" dy="14.5">护士，我们必须做到心、眼、口、手勤，做到</tspan><tspan x="321" dy="14.5">细心、体贴、耐心、负责，提高自己的专业技</tspan><tspan x="321" dy="14.5">能，更好地为患者服务。我也意识到建立良好</tspan><tspan x="321" dy="14.5">的工作和人际关系对我个人专业素质、服务质</tspan><tspan x="321" dy="14.5">量和服务意识的提高有着重要的意义。医护人</tspan><tspan x="321" dy="14.5">员与患者及其家属的和谐关系，将有利于医嘱</tspan><tspan x="321" dy="14.5">和护理指令的落实，达到更好的治疗效果。</tspan></text>
</g>
<g id="s4e">
<rect class="box" x="315" y="1797.25" width="240" height="85.5" rx="4"/>
<text class="t" y="1815.75"><tspan x="321">通过这几个月的学习，我的启蒙和教育对我以</tspan><tspan x="321" dy="14.5">后的发展起到了很大的作用。如何做一个受人</tspan><tspan x="321" dy="14.5">尊敬的好护士是我的目标。我应该从身边的小</tspan><tspan x="321" dy="14.5">事和细节开始，永远记住我是一个救死扶伤的</tspan><tspan x="321" dy="14.5">白衣天使。</tspan></text>
</g>

<g id="sel6">
<rect class="pill" x="847" y="2315" width="282" height="50" rx="25"/>
<text class="pt" y="2335"><tspan x="873">2023护理实习转正个人鉴定总结精</tspan><tspan x="873" dy="19">选篇6</tspan></text>
</g>
<g id="s6a">
<rect class="box" x="583" y="1914.75" width="240" height="114.5" rx="4"/>
<text class="t" y="1933.25"><tspan x="589">时间过得真快呀，在医院的试用期即将就要过</tspan><tspan x="589" dy="14.5">去了，这一段时间以来，我真的学到了很多，</tspan><tspan x="589" dy="14.5">工作也是熟练了很多，从一开始茫茫然然的到</tspan><tspan x="589" dy="14.5">现在独立的处理各种问题，真的感觉自己成长</tspan><tspan x="589" dy="14.5">的特别多，也感谢一直带着我的同事，现在就</tspan><tspan x="589" dy="14.5">要面临转正了，我也对我自己做一下自我的鉴</tspan><tspan x="589" dy="14.5">定。</tspan></text>
</g>
<g id="s6b">
<rect class="box" x="583" y="2049.5" width="240" height="129" rx="4"/>
<text class="t" y="2068"><tspan x="589">思想方面我是特别认真的学习领导们的各种讲</tspan><tspan x="589" dy="14.5">话，医院里面的各种规章制度我也是比较熟悉</tspan><tspan x="589" dy="14.5">，能够遵守，医院和科室每隔一段时间都是会</tspan><tspan x="589" dy="14.5">开展一些活动的，有学习培训的，业余生活的</tspan><tspan x="589" dy="14.5">，我都是会积极的去参加，多和同事进行沟通</tspan><tspan x="589" dy="14.5">，让我更快的融入到医院的工作生活当中来，</tspan><tspan x="589" dy="14.5">平时也是看一些专业的理论知识，来充实我的</tspan><tspan x="589" dy="14.5">知识储备，更好的为工作服务。</tspan></text>
</g>
<g id="s6c">
<rect class="box" x="583" y="2199.75" width="240" height="172.5" rx="4"/>
<text class="t" y="2218.25"><tspan x="589">在平常的工作里，我认真的做好检查，做好服</tspan><tspan x="589" dy="14.5">务，不懂的地方我都是及时的请教，让我的工</tspan><tspan x="589" dy="14.5">作能尽快的展开，不耽搁病人的时间，同时也</tspan><tspan x="589" dy="14.5">是把他们都服务好，让他们在我们科室的护理</tspan><tspan x="589" dy="14.5">都能做好，能尽快的康复。微笑的为病患服务</tspan><tspan x="589" dy="14.5">，虽然说很多时候我们每天的工作都是比较重</tspan><tspan x="589" dy="14.5">复，输液，检查，按摩，提醒吃药，等等，但</tspan><tspan x="589" dy="14.5">是其实病患也很不开心，如果我们还是板着一</tspan><tspan x="589" dy="14.5">个脸，那么更是不能让他们觉得康复会很快，</tspan><tspan x="589" dy="14.5">如果我们也微笑的服务，他们自然也是会心情</tspan><tspan x="589" dy="14.5">好一些，也是会对康复的信心更足。</tspan></text>
</g>
<g id="s6d">
<rect class="box" x="583" y="2403.75" width="240" height="114.5" rx="4"/>
<text class="t" y="2422.25"><tspan x="589">我每天都是会及早的来到医院和同事把班交接</tspan><tspan x="589" dy="14.5">好，下班之前也是会仔细的叮嘱同事把要做的</tspan><tspan x="589" dy="14.5">事情做好，试用期这段时间我没有迟到和早退</tspan><tspan x="589" dy="14.5">过一次，即使是请假，我也是会把工作都安排</tspan><tspan x="589" dy="14.5">交接好，避免出现问题，护理的工作是需要耐</tspan><tspan x="589" dy="14.5">心细心认真的做好的，这段时间我也是很好的</tspan><tspan x="589" dy="14.5">做好了工作，避免出现什么大错。</tspan></text>
</g>
<g id="s6e">
<rect class="box" x="583" y="2537.75" width="240" height="114.5" rx="4"/>
<text class="t" y="2556.25"><tspan x="589">不过我也有不足的地方，有时候工作没有那么</tspan><tspan x="589" dy="14.5">的热情，或者把生活里的一些情绪带到了工作</tspan><tspan x="589" dy="14.5">当中来，在今后的工作里，我也是要把这些不</tspan><tspan x="589" dy="14.5">足改正过来，护理的工作本来就是要有一个良</tspan><tspan x="589" dy="14.5">好的服务心态，热情的帮助病患，不能带有自</tspan><tspan x="589" dy="14.5">己的情绪从而影响了病患，让他们觉得我这个</tspan><tspan x="589" dy="14.5">护士不好沟通，或者脾气不好。</tspan></text>
</g>
<g id="s6f">
<rect class="box" x="583" y="2674.25" width="240" height="85.5" rx="4"/>
<text class="t" y="2692.75"><tspan x="589">今后我也是要多学习理论知识，提升自己的服</tspan><tspan x="589" dy="14.5">务水平，把护理的工作做得更好，让病患认可</tspan><tspan x="589" dy="14.5">我的护理工作，争取做一名更加优秀的护理服</tspan><tspan x="589" dy="14.5">务人员，让自己的护理能力更上一个台阶，为</tspan><tspan x="589" dy="14.5">医院的护理工作作出属于我自己的一份贡献。</tspan></text>
</g>
</svg>
